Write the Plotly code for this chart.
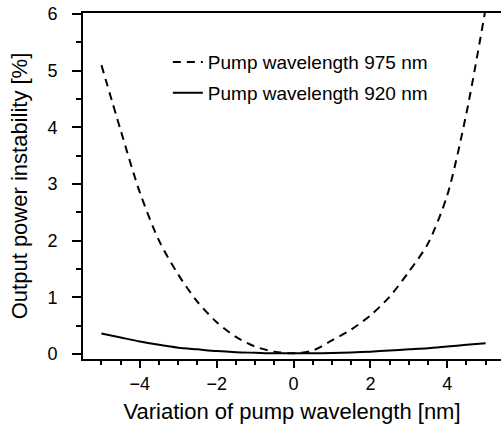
import plotly.graph_objects as go

# Variation of pump wavelength [nm]
wl_shift = [-5, -4.5, -4, -3.5, -3, -2.5, -2, -1.5, -1, -0.5, 0, 0.5, 1, 1.5, 2, 2.5, 3, 3.5, 4, 4.5, 5]
# Output power instability [%]
instab_975 = [5.1, 3.95, 2.85, 2.0, 1.4, 0.92, 0.56, 0.3, 0.13, 0.04, 0.01, 0.06, 0.24, 0.43, 0.68, 1.01, 1.45, 1.95, 2.8, 4.25, 6.1]
instab_920 = [0.36, 0.29, 0.22, 0.16, 0.11, 0.08, 0.05, 0.03, 0.02, 0.01, 0.01, 0.01, 0.015, 0.025, 0.04, 0.06, 0.08, 0.1, 0.13, 0.16, 0.19]

names = ["Pump wavelength 975 nm", "Pump wavelength 920 nm"]
x_ticks = [-4, -2, 0, 2, 4]
y_ticks = [0, 1, 2, 3, 4, 5, 6]

FONT = "Liberation Sans, Arial, sans-serif"

fig = go.Figure()
fig.add_trace(go.Scatter(x=wl_shift, y=instab_975, mode="lines", name=names[0], showlegend=True,
                         line=dict(color="black", width=2, dash="8px,6px", shape="spline", smoothing=0.8),
                         legend="legend"))
fig.add_trace(go.Scatter(x=wl_shift, y=instab_920, mode="lines", name=names[1], showlegend=True,
                         line=dict(color="black", width=2, shape="spline", smoothing=0.8),
                         legend="legend2"))

legend_common = dict(font=dict(family=FONT, size=19, color="black"), bgcolor="rgba(0,0,0,0)",
                     xanchor="left", yanchor="middle", borderwidth=0)
fig.update_layout(
    width=501, height=428,
    margin=dict(l=83, r=0, t=13, b=69),
    paper_bgcolor="white", plot_bgcolor="white",
    font=dict(family=FONT, color="black"),
    showlegend=True,
    legend=dict(x=0.203, y=0.858, **legend_common),
    legend2=dict(x=0.203, y=0.769, **legend_common),
    xaxis=dict(
        range=[-5.48, 5.4], showgrid=False, zeroline=False, automargin=False,
        showline=True, linecolor="black", linewidth=2, mirror=True,
        tickmode="array", tickvals=x_ticks, ticks="outside", ticklen=7, tickwidth=2, tickcolor="black",
        tickfont=dict(size=18, family=FONT, color="black"),
        minor=dict(dtick=0.5, tick0=0, ticks="outside", ticklen=4, tickwidth=2, tickcolor="black"),
        title=dict(text="Variation of pump wavelength [nm]", font=dict(size=22, family=FONT, color="black"), standoff=11),
    ),
    yaxis=dict(
        range=[-0.09, 6.02], showgrid=False, zeroline=False, automargin=False,
        showline=True, linecolor="black", linewidth=2,
        tickmode="array", tickvals=y_ticks, ticks="outside", ticklen=9, tickwidth=2, tickcolor="black",
        tickfont=dict(size=18, family=FONT, color="black"), ticklabelstandoff=11,
        minor=dict(dtick=0.5, tick0=0, ticks="outside", ticklen=5, tickwidth=2, tickcolor="black"),
        title=dict(text="Output power instability [%]", font=dict(size=22, family=FONT, color="black"), standoff=14),
    ),
)

fig.write_html("out.html", config={"displayModeBar": False},
               post_script="document.body.style.margin='0';document.body.style.overflow='hidden';")
